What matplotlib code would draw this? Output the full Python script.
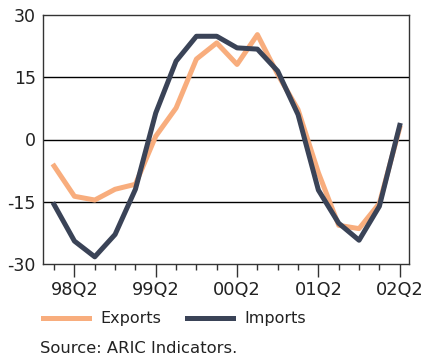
import numpy as np
import matplotlib
matplotlib.use('Agg')
import matplotlib.pyplot as plt

quarters = ['98Q1', '98Q2', '98Q3', '98Q4', '99Q1', '99Q2', '99Q3', '99Q4',
            '00Q1', '00Q2', '00Q3', '00Q4', '01Q1', '01Q2', '01Q3', '01Q4',
            '02Q1', '02Q2']
exports = [-6.4, -13.7, -14.6, -12.0, -10.8, 0.8, 7.6, 19.4, 23.3, 18.1,
           25.3, 15.7, 7.2, -8.0, -20.7, -21.5, -15.4, 2.8]
imports = [-15.7, -24.5, -28.3, -22.9, -12.0, 6.4, 18.9, 24.9, 24.9, 22.1,
           21.8, 16.5, 6.0, -12.2, -20.2, -24.3, -16.1, 3.4]
yticks = [-30, -15, 0, 15, 30]

orange = '#F8AD7D'
navy = '#3A4357'

plt.rcParams['font.family'] = 'DejaVu Sans'
fig = plt.figure(figsize=(4.25, 3.6), dpi=100)
ax = fig.add_axes([0.101, 0.267, 0.861, 0.691])

x = np.arange(len(quarters))
for g in [-15, 0, 15]:
    ax.axhline(g, color='black', linewidth=1.0, zorder=1)

ax.plot(x, exports, color=orange, linewidth=3.6, label='Exports', zorder=2)
ax.plot(x, imports, color=navy, linewidth=3.6, label='Imports', zorder=3)

ax.set_xlim(-0.55, len(quarters) - 0.55)
ax.set_ylim(-30, 30)
ax.set_yticks(yticks)
ax.set_yticklabels([str(v) for v in yticks], fontsize=12.5, color='#222222')
ax.tick_params(axis='y', length=0, pad=5)

major = [i for i, q in enumerate(quarters) if q.endswith('Q2')]
minor = [i for i, q in enumerate(quarters) if not q.endswith('Q2')]
ax.set_xticks(major)
ax.set_xticklabels([quarters[i] for i in major], fontsize=12.8, color='#222222')
ax.set_xticks(minor, minor=True)
ax.tick_params(axis='x', which='major', length=9, width=1, color='#333333', pad=3.5)
ax.tick_params(axis='x', which='minor', length=4.5, width=1, color='#333333')

for s in ax.spines.values():
    s.set_color('#333333')
    s.set_linewidth(1.0)

fig.legend(loc='center left', bbox_to_anchor=(0.101, 0.114), ncol=2, frameon=False,
           fontsize=11.5, handlelength=2.9, handletextpad=0.7, columnspacing=1.6,
           borderaxespad=0, borderpad=0, labelcolor='#222222')

fig.text(0.094, 0.031, 'Source: ARIC Indicators.', fontsize=11.8, color='#222222',
         va='center')

fig.savefig('out.png', dpi=100)
